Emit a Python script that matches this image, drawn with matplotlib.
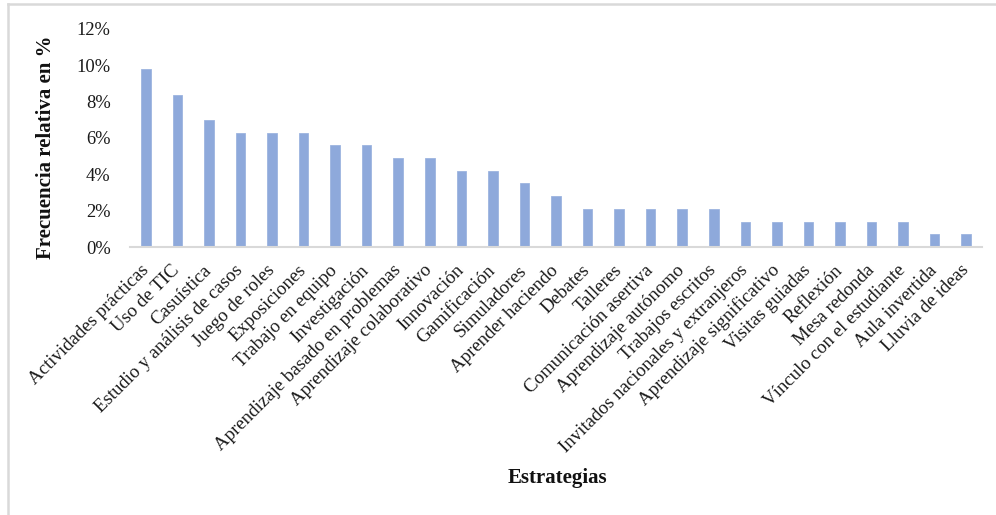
import matplotlib
matplotlib.use("Agg")
import matplotlib.pyplot as plt
from matplotlib.lines import Line2D
from matplotlib.ticker import FuncFormatter, MultipleLocator

plt.rcParams['font.family'] = ['Liberation Serif', 'DejaVu Serif']

estrategias = [
    "Actividades prácticas", "Uso de TIC", "Casuística",
    "Estudio y análisis de casos", "Juego de roles", "Exposiciones",
    "Trabajo en equipo", "Investigación", "Aprendizaje basado en problemas",
    "Aprendizaje colaborativo", "Innovación", "Gamificación", "Simuladores",
    "Aprender haciendo", "Debates", "Talleres", "Comunicación asertiva",
    "Aprendizaje autónomo", "Trabajos escritos",
    "Invitados nacionales y extranjeros", "Aprendizaje significativo",
    "Visitas guiadas", "Reflexión", "Mesa redonda",
    "Vínculo con el estudiante", "Aula invertida", "Lluvia de ideas",
]
frecuencia = [14, 12, 10, 9, 9, 9, 8, 8, 7, 7, 6, 6, 5, 4,
              3, 3, 3, 3, 3, 2, 2, 2, 2, 2, 2, 1, 1]
total = sum(frecuencia)
porcentaje = [100 * f / total for f in frecuencia]

W, H = 996, 515
fig = plt.figure(figsize=(W / 100, H / 100), dpi=100)
ax = fig.add_axes([130 / W, 1 - 247 / H, (982 - 130) / W, (247 - 29) / H])

x = range(len(estrategias))
ax.bar(x, porcentaje, width=0.3, color="#8EA9DB", edgecolor="#9DB5E0", linewidth=0.6, zorder=2)

ax.set_xlim(-0.5, len(estrategias) - 0.5)
ax.set_ylim(0, 12)
ax.yaxis.set_major_locator(MultipleLocator(2))
ax.yaxis.set_major_formatter(FuncFormatter(lambda v, p: f"{v:.0f}%"))

for s in ["top", "right", "left"]:
    ax.spines[s].set_visible(False)
ax.spines["bottom"].set_color("#D9D9D9")
ax.spines["bottom"].set_linewidth(1.5)

ax.set_xticks(list(x))
ax.set_xticklabels(estrategias, rotation=45, ha="right", va="center",
                   rotation_mode="anchor", fontsize=13.6, color="#1a1a1a")
ax.tick_params(axis="x", length=0, pad=15)
ax.tick_params(axis="y", length=0, pad=14, labelsize=13.3, labelcolor="#1a1a1a")

fig.text(46 / W, 1 - 147 / H, "Frecuencia relativa en %", rotation=90,
         ha="center", va="center", fontsize=15, fontweight="bold", color="#111111")
fig.text(557 / W, 1 - 478 / H, "Estrategias", ha="center", va="center",
         fontsize=15, fontweight="bold", color="#111111")

# light frame on the top and left edges
fig.add_artist(Line2D([8 / W, 8 / W], [0, 1 - 4 / H], transform=fig.transFigure,
                      color="#D9D9D9", linewidth=1.8))
fig.add_artist(Line2D([8 / W, 1], [1 - 4 / H, 1 - 4 / H], transform=fig.transFigure,
                      color="#D9D9D9", linewidth=1.8))

fig.savefig("out.png", dpi=100)
